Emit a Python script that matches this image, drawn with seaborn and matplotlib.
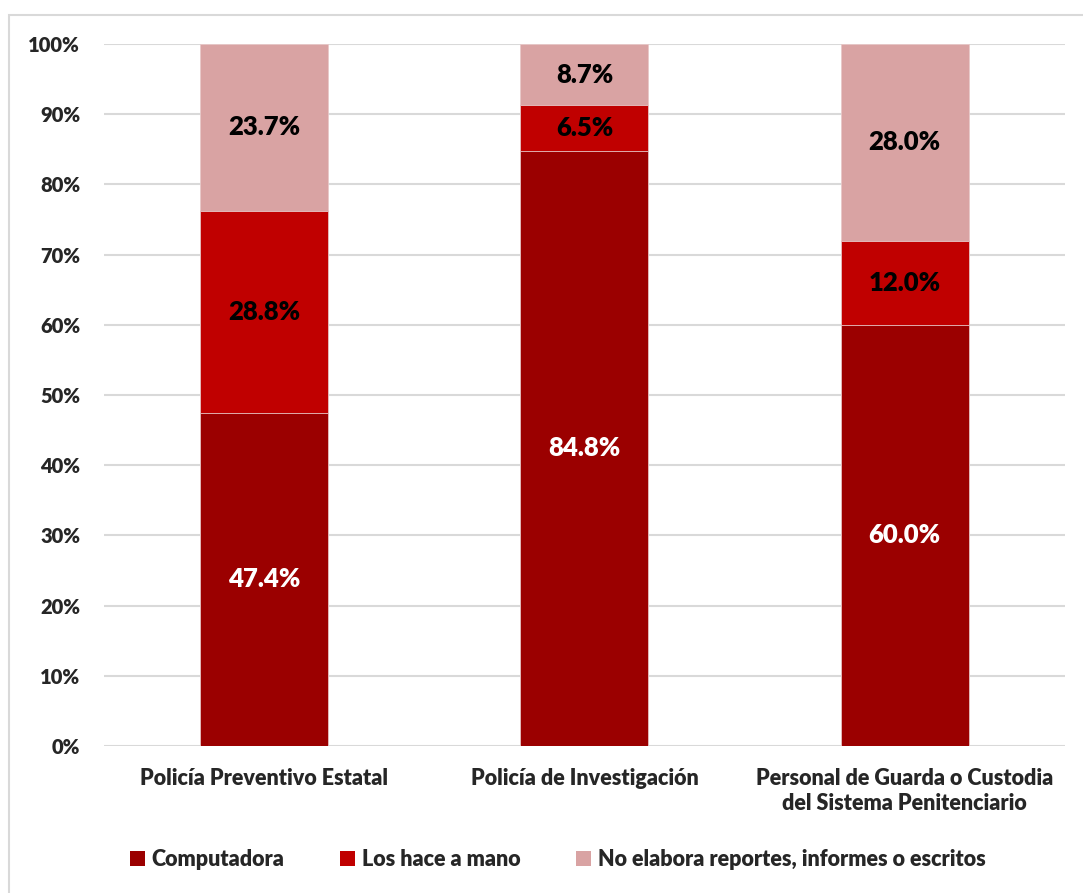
import numpy as np
import pandas as pd
import matplotlib
matplotlib.use("Agg")
import matplotlib.pyplot as plt
from matplotlib.patches import Rectangle, Patch
import seaborn as sns

categories = ["Policía Preventivo Estatal", "Policía de Investigación",
              "Personal de Guarda o Custodia\ndel Sistema Penitenciario"]
series_names = ["Computadora", "Los hace a mano", "No elabora reportes, informes o escritos"]
computadora = [47.4, 84.8, 60.0]
a_mano = [28.8, 6.5, 12.0]
no_elabora = [23.7, 8.7, 28.0]
colors = ["#9B0000", "#C00000", "#D9A3A3"]
label_colors = ["white", "black", "black"]

sns.set_theme(style="white")
plt.rcParams['font.family'] = ['Lato', 'DejaVu Sans']
plt.rcParams['font.weight'] = 'heavy'
W = "heavy"

df = pd.DataFrame({"cat": categories, series_names[0]: computadora,
                   series_names[1]: a_mano, series_names[2]: no_elabora})
vals = df[series_names].to_numpy()
vals = vals / vals.sum(axis=1, keepdims=True) * 100
cum = np.cumsum(vals, axis=1)

fig = plt.figure(figsize=(10.83, 8.93), dpi=100)
ax = fig.add_axes([0.0958, 0.1646, 0.8876, 0.7861])

# draw cumulative heights from top to bottom so the stack shows
for i in reversed(range(3)):
    sns.barplot(x=df["cat"], y=cum[:, i], color=colors[i], width=0.4,
                saturation=1, ax=ax, zorder=2, edgecolor="#E8C8C8", linewidth=0.6)

for j in range(len(categories)):
    for i in range(3):
        mid = cum[j, i] - vals[j, i] / 2
        ax.text(j, mid, f"{df[series_names[i]][j]:.1f}%", ha="center", va="center",
                color=label_colors[i], fontsize=18.5, fontweight=W, zorder=3)

ax.set_ylim(0, 100)
ax.set_xlim(-0.5, 2.5)
ax.set_yticks(range(0, 101, 10))
ax.set_yticklabels([f"{v}%" for v in range(0, 101, 10)], fontsize=14.5, fontweight=W)
ax.set_xticklabels(categories, fontsize=15.5, fontweight=W, linespacing=1.25)
ax.tick_params(axis="x", pad=16, length=0)
ax.tick_params(axis="y", pad=17, length=0)
ax.set_xlabel("")
ax.set_ylabel("")
ax.yaxis.grid(True, color="#D9D9D9", linewidth=1.5, zorder=0)
ax.set_axisbelow(True)
for s in ax.spines.values():
    s.set_visible(False)

handles = [Patch(facecolor=c, edgecolor="none") for c in colors]
fig.legend(handles, series_names, loc="center", bbox_to_anchor=(0.515, 0.037), ncol=3,
           frameon=False, prop={"size": 15.5, "weight": W}, handlelength=0.7,
           handleheight=0.7, handletextpad=0.3, columnspacing=2.6)

fig.patches.append(Rectangle((9 / 1083, -0.01), 1.1, (893 - 15) / 893 + 0.01,
                             transform=fig.transFigure, fill=False,
                             edgecolor="#D9D9D9", linewidth=1.5))

fig.savefig("out.png", dpi=100)
